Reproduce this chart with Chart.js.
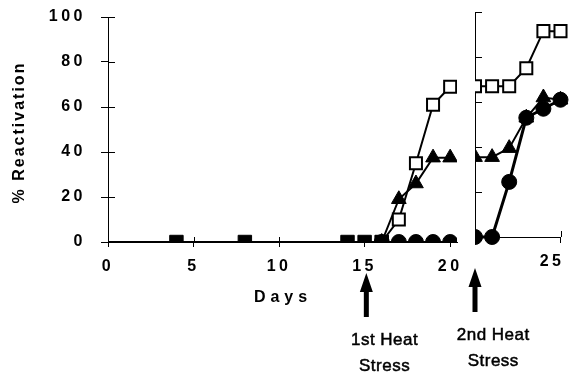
<!DOCTYPE html>
<html><head><meta charset="utf-8">
<script src="https://cdn.jsdelivr.net/npm/chart.js@4.4.1/dist/chart.umd.min.js"></script>
<style>
html,body{margin:0;padding:0;background:#fff;overflow:hidden}
#wrap{position:relative;width:571px;height:374px;background:#fff}
canvas{position:absolute;left:0;top:0}
</style></head><body>
<div id="wrap"><canvas id="c1" width="571" height="374"></canvas><canvas id="c2" width="571" height="374"></canvas></div>
<script>
// ---- data: panel 1 (first heat stress) ----
const baseDays   = [0, 4, 8, 14, 15, 16];
const baseValues = [0, 0, 0, 0, 0, 0];
const p1Days        = [16, 17, 18, 19, 20];
const p1OpenSquares = [0, 10, 35, 61, 69];
const p1Triangles   = [0, 19, 26, 37.5, 37.5];
const p1Circles     = [0, 0, 0, 0, 0];
// ---- data: panel 2 (second heat stress) ----
const p2Days        = [20, 21, 22, 23, 24, 25];
const p2OpenSquares = [67, 67, 67, 75, 91.5, 91.5];
const p2Triangles   = [35.5, 35.5, 39.5, 53, 62, 61];
const p2Circles     = [0, 0, 24.5, 53, 57, 61];
// ---- ticks & labels ----
const yTickValues  = [0, 20, 40, 60, 80, 100];
const x1TickValues = [0, 5, 10, 15, 20];
const x2TickValues = [25];
const yTitle = '% Reactivation';
const xTitle = 'Days';
const stressLabels = [['1st Heat', 'Stress'], ['2nd Heat', 'Stress']];
const stressDays = [15.1, 20]; // panel 1 day, panel 2 day

const FAMILY = "'Liberation Sans', Arial, sans-serif";
Chart.defaults.font.family = FAMILY;
Chart.defaults.color = '#000';

const TICK_FONT = {family: FAMILY, size: 16, weight: 'bold'};
const TICK_SPACING = '3.5px';

function pts(xs, ys) { return xs.map((x, i) => ({x: x, y: ys[i]})); }

function spacedText(ctx, text, x, y, font, spacing, align, rot, stroke) {
  ctx.save();
  ctx.font = font;
  ctx.letterSpacing = spacing + 'px';
  const w = ctx.measureText(text).width - spacing;
  ctx.translate(x, y);
  if (rot) ctx.rotate(rot);
  ctx.textAlign = 'left';
  ctx.textBaseline = 'middle';
  ctx.fillStyle = '#000';
  const sx = align === 'center' ? -w / 2 : (align === 'right' ? -w : 0);
  ctx.fillText(text, sx, 0);
  if (stroke) { ctx.strokeStyle = '#000'; ctx.lineWidth = stroke; ctx.strokeText(text, sx, 0); }
  ctx.restore();
}

function drawArrow(ctx, x, yTip, yEnd) {
  ctx.save();
  ctx.fillStyle = '#000';
  ctx.beginPath();
  ctx.moveTo(x, yTip);
  ctx.lineTo(x + 6.5, yTip + 19);
  ctx.lineTo(x + 2.5, yTip + 19);
  ctx.lineTo(x + 2.5, yEnd);
  ctx.lineTo(x - 2.5, yEnd);
  ctx.lineTo(x - 2.5, yTip + 19);
  ctx.lineTo(x - 6.5, yTip + 19);
  ctx.closePath();
  ctx.fill();
  ctx.restore();
}

function stressNote(chart, idx) {
  const ctx = chart.ctx;
  const xs = chart.scales.x;
  const x = xs.getPixelForValue(stressDays[idx]);
  const b = chart.chartArea.bottom;
  drawArrow(ctx, x, b + 31, b + 75);
  const f = "17px " + FAMILY;
  spacedText(ctx, stressLabels[idx][0], x + 18, b + 98, f, 0.5, 'center', 0, 0.5);
  spacedText(ctx, stressLabels[idx][1], x + 18, b + 124, f, 0.5, 'center', 0, 0.5);
}

function innerTicks(chart, yLen, xLen) {
  const ctx = chart.ctx, ys = chart.scales.y, xs = chart.scales.x;
  const a = chart.chartArea;
  ctx.save();
  ctx.strokeStyle = '#000';
  ctx.lineWidth = 1;
  ctx.beginPath();
  ys.ticks.forEach(t => {
    const py = Math.round(ys.getPixelForValue(t.value)) + 0.5;
    ctx.moveTo(a.left, py); ctx.lineTo(a.left + yLen, py);
  });
  xs.ticks.forEach(t => {
    const px = Math.round(xs.getPixelForValue(t.value)) + 0.5;
    ctx.moveTo(px, a.bottom); ctx.lineTo(px, a.bottom - xLen);
  });
  ctx.stroke();
  ctx.restore();
}

function noOverhang(s) { s.paddingTop = 0; s.paddingBottom = 0; s.paddingLeft = 0; s.paddingRight = 0; }

const leftPlugin = {
  id: 'leftDecor',
  beforeDraw(chart) { chart.ctx.letterSpacing = TICK_SPACING; },
  afterDraw(chart) {
    const ctx = chart.ctx;
    ctx.letterSpacing = '0px';
    innerTicks(chart, 7, 5);
    const a = chart.chartArea;
    const bf = "bold 16px " + FAMILY;
    spacedText(ctx, xTitle, (a.left + a.right) / 2 - 2, a.bottom + 56, bf, 5, 'center');
    spacedText(ctx, yTitle, 20, (a.top + a.bottom) / 2 + 4, bf, 2, 'center', -Math.PI / 2);
    stressNote(chart, 0);
  }
};

// panel 2 markers are cut at the left (broken) axis
const rightPlugin = {
  id: 'rightDecor',
  beforeDraw(chart) { chart.ctx.letterSpacing = TICK_SPACING; },
  beforeDatasetsDraw(chart) {
    const ctx = chart.ctx, a = chart.chartArea;
    ctx.save();
    ctx.beginPath();
    ctx.rect(a.left, 0, chart.width - a.left, chart.height);
    ctx.clip();
  },
  afterDatasetsDraw(chart) { chart.ctx.restore(); },
  afterDraw(chart) {
    chart.ctx.letterSpacing = '0px';
    innerTicks(chart, 7, 6);
    stressNote(chart, 1);
  }
};

const blackLine = {borderColor: '#000', pointBorderColor: '#000', showLine: true, tension: 0};

// ---------- Chart 1 : days 0-20 ----------
new Chart(document.getElementById('c1'), {
  type: 'scatter',
  data: {
    datasets: [
      Object.assign({}, blackLine, {
        data: pts(baseDays, baseValues), borderWidth: 2,
        pointStyle: 'rect', pointBackgroundColor: '#000', pointBorderWidth: 1,
        pointRadius: c => (c.dataIndex === 0 ? 0 : 9.5)
      }),
      Object.assign({}, blackLine, {
        data: pts(p1Days, p1OpenSquares), borderWidth: 2,
        pointStyle: 'rect', pointBackgroundColor: '#fff', pointBorderWidth: 2, pointRadius: 8.5
      }),
      Object.assign({}, blackLine, {
        data: pts(p1Days, p1Triangles), borderWidth: 2,
        pointStyle: 'triangle', pointBackgroundColor: '#000', pointBorderWidth: 1, pointRadius: 8.5
      }),
      Object.assign({}, blackLine, {
        data: pts(p1Days, p1Circles), borderWidth: 2,
        pointStyle: 'circle', pointBackgroundColor: '#000', pointBorderWidth: 1, pointRadius: 7.5
      })
    ]
  },
  options: {
    responsive: false, animation: false, events: [],
    layout: {padding: {left: 0, top: 17, right: 114, bottom: 92}},
    plugins: {legend: {display: false}, tooltip: {enabled: false}},
    scales: {
      x: {
        type: 'linear', min: 0, max: 20.4,
        afterBuildTicks: s => { s.ticks = x1TickValues.map(v => ({value: v})); },
        afterFit: s => { s.height = 40; noOverhang(s); },
        grid: {drawOnChartArea: false, drawTicks: true, tickLength: 5, color: '#000', lineWidth: 1},
        border: {display: true, color: '#000', width: 1},
        ticks: {font: TICK_FONT, color: '#000', padding: 10, maxRotation: 0, autoSkip: false}
      },
      y: {
        type: 'linear', min: 0, max: 100,
        afterBuildTicks: s => { s.ticks = yTickValues.map(v => ({value: v})); },
        afterFit: s => { s.width = 108; noOverhang(s); },
        grid: {drawOnChartArea: false, drawTicks: true, tickLength: 7, color: '#000', lineWidth: 1},
        border: {display: true, color: '#000', width: 1},
        ticks: {font: TICK_FONT, color: '#000', padding: 15}
      }
    }
  },
  plugins: [leftPlugin]
});

// ---------- Chart 2 : days 20-25 (after second stress) ----------
new Chart(document.getElementById('c2'), {
  type: 'scatter',
  data: {
    datasets: [
      Object.assign({}, blackLine, {
        data: pts(p2Days, p2OpenSquares), borderWidth: 2, clip: false,
        pointStyle: 'rect', pointBackgroundColor: '#fff', pointBorderWidth: 2, pointRadius: 8.5
      }),
      Object.assign({}, blackLine, {
        data: pts(p2Days, p2Circles), borderWidth: 3, clip: false,
        pointStyle: 'circle', pointBackgroundColor: '#000', pointBorderWidth: 1, pointRadius: 7.5
      }),
      Object.assign({}, blackLine, {
        data: pts(p2Days, p2Triangles), borderWidth: 2, clip: false,
        pointStyle: 'triangle', pointBackgroundColor: '#000', pointBorderWidth: 1, pointRadius: 8.5
      })
    ]
  },
  options: {
    responsive: false, animation: false, events: [],
    layout: {padding: {left: 0, top: 12, right: 8, bottom: 97}},
    plugins: {legend: {display: false}, tooltip: {enabled: false}},
    scales: {
      x: {
        type: 'linear', min: 20, max: 25,
        afterBuildTicks: s => { s.ticks = x2TickValues.map(v => ({value: v})); },
        afterFit: s => { s.height = 40; noOverhang(s); },
        grid: {drawOnChartArea: false, drawTicks: true, tickLength: 6, color: '#000', lineWidth: 1},
        border: {display: true, color: '#000', width: 1},
        ticks: {font: TICK_FONT, color: '#000', padding: 9, align: 'end', labelOffset: 4, maxRotation: 0, autoSkip: false}
      },
      y: {
        type: 'linear', min: 0, max: 100,
        afterBuildTicks: s => { s.ticks = yTickValues.map(v => ({value: v})); },
        afterFit: s => { s.width = 475; noOverhang(s); },
        grid: {drawOnChartArea: false, drawTicks: false},
        border: {display: true, color: '#000', width: 1},
        ticks: {display: false}
      }
    }
  },
  plugins: [rightPlugin]
});
</script>
</body></html>
